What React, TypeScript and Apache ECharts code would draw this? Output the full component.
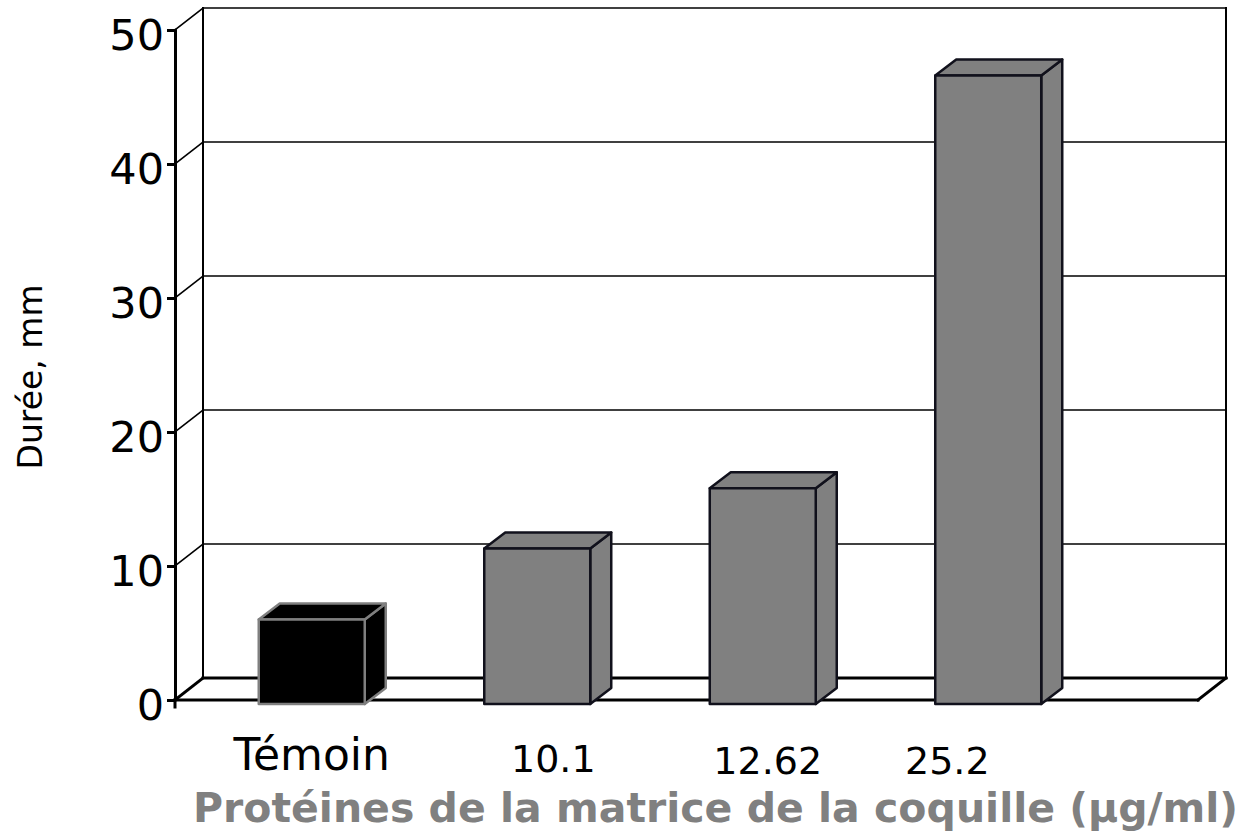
import React, { useEffect, useRef } from "react";
import * as echarts from "echarts";

// ---- data ----
const categories = ["Témoin", "10.1", "12.62", "25.2"];
const durations = [6.0, 11.3, 15.8, 46.6];
const yTicks = [0, 10, 20, 30, 40, 50];

// ---- styles ----
const FONT = "'DejaVu Sans', sans-serif";
const barFills = ["#000000", "#808080", "#808080", "#808080"];
const barStrokes = ["#7f7f7f", "#11111c", "#11111c", "#11111c"];
// label padding per category label (top, right, bottom, left)
const labelPads = [
  [0, 0, 0, 0],
  [8, 0, 0, 32],
  [10, 0, 0, 10],
  [10, 82, 0, 0],
];
const labelSizes = [44, 38, 38, 38];
const WALL_DX = 28;
const WALL_DY = -22;
const BAR_DX = 21;
const BAR_DY = -16;
const AXIS_OFFSET = 24;
const FLOOR_EXTRA_RIGHT = 97;

export default function App() {
  const ref = useRef<HTMLDivElement>(null);
  useEffect(() => {
    const chart = echarts.init(ref.current!, undefined, { renderer: "svg" });

    const frameRender = (params: any, api: any) => {
      const cs = params.coordSys;
      const xL = cs.x - AXIS_OFFSET;
      const xR = cs.x + cs.width + FLOOR_EXTRA_RIGHT;
      const yOf = (v: number) => api.coord([0, v])[1];
      const y0 = yOf(0);
      const yTop = yOf(yTicks[yTicks.length - 1]);
      const children: any[] = [];
      const line = (x1: number, y1: number, x2: number, y2: number, w: number) =>
        children.push({
          type: "line",
          shape: { x1, y1, x2, y2 },
          style: { stroke: "#000", lineWidth: w, lineCap: "square" },
        });
      yTicks.forEach((v) => {
        const yf = yOf(v);
        if (v !== 0) line(xL + WALL_DX, yf + WALL_DY, xR + WALL_DX, yf + WALL_DY, 1.6);
        line(xL, yf, xL + WALL_DX, yf + WALL_DY, v === 0 ? 3 : 1.6);
      });
      line(xL + WALL_DX, yTop + WALL_DY, xL + WALL_DX, y0 + WALL_DY, 2);
      line(xR + WALL_DX, yTop + WALL_DY, xR + WALL_DX, y0 + WALL_DY, 2);
      line(xL + WALL_DX, y0 + WALL_DY, xR + WALL_DX, y0 + WALL_DY, 3);
      line(xL, y0, xR, y0, 3);
      line(xR, y0, xR + WALL_DX, y0 + WALL_DY, 3);
      line(xL, y0, xL, y0 + 7, 3);
      return { type: "group", children };
    };

    const barRender = (params: any, api: any) => {
      const idx = api.value(0);
      const v = api.value(1);
      const [cx, yt] = api.coord([idx, v]);
      const yb = api.coord([idx, 0])[1] + 4;
      const bw = api.size([1, 0])[0] * 0.47;
      const x0 = cx - bw / 2;
      const x1 = cx + bw / 2;
      const style = {
        fill: barFills[params.dataIndex],
        stroke: barStrokes[params.dataIndex],
        lineWidth: 2.5,
        lineJoin: "round",
      };
      return {
        type: "group",
        children: [
          {
            type: "polygon",
            shape: { points: [[x1, yt], [x1 + BAR_DX, yt + BAR_DY], [x1 + BAR_DX, yb + BAR_DY], [x1, yb]] },
            style,
          },
          {
            type: "polygon",
            shape: { points: [[x0, yt], [x0 + BAR_DX, yt + BAR_DY], [x1 + BAR_DX, yt + BAR_DY], [x1, yt]] },
            style,
          },
          {
            type: "polygon",
            shape: { points: [[x0, yt], [x1, yt], [x1, yb], [x0, yb]] },
            style,
          },
        ],
      };
    };

    const rich: any = {};
    categories.forEach((_, i) => {
      rich["c" + i] = {
        fontSize: labelSizes[i],
        color: "#000",
        fontFamily: FONT,
        padding: labelPads[i],
      };
    });
    rich.y = { fontSize: 43, color: "#000", fontFamily: FONT, padding: [10, 0, 0, 0] };

    const option: any = {
      animation: false,
      backgroundColor: "#ffffff",
      title: {
        text: "Protéines de la matrice de la coquille (µg/ml)",
        left: 188,
        top: 782,
        textStyle: { fontSize: 41, fontWeight: "bold", color: "#808080", fontFamily: FONT },
      },
      grid: { left: 199, top: 30, width: 902, height: 670, outerBoundsMode: "none", containLabel: false },
      xAxis: {
        type: "category",
        data: categories,
        axisLine: { show: false },
        axisTick: { show: false },
        splitLine: { show: false },
        axisLabel: {
          margin: 32,
          formatter: (val: string, i: number) => `{c${i}|${val}}`,
          rich,
        },
      },
      yAxis: {
        type: "value",
        min: 0,
        max: 50,
        interval: 10,
        offset: AXIS_OFFSET,
        name: "Durée, mm",
        nameLocation: "middle",
        nameGap: 128,
        nameRotate: 90,
        nameTextStyle: { fontSize: 33, color: "#000", fontFamily: FONT, padding: [0, 24, 0, 0] },
        axisLine: { show: true, lineStyle: { color: "#000", width: 3 } },
        axisTick: { show: true, length: 8, lineStyle: { color: "#000", width: 3 } },
        splitLine: { show: false },
        axisLabel: {
          margin: 11,
          formatter: (val: number) => `{y|${val}}`,
          rich,
        },
      },
      series: [
        { type: "custom", data: [[0, 0]], renderItem: frameRender, clip: false, silent: true, z: 1 },
        {
          type: "custom",
          data: durations.map((v, i) => [i, v]),
          renderItem: barRender,
          clip: false,
          z: 2,
        },
      ],
    };
    chart.setOption(option);
    return () => chart.dispose();
  }, []);
  return (
    <div
      ref={ref}
      style={{ position: "fixed", left: 0, top: 0, width: 1245, height: 840, background: "#fff" }}
    />
  );
}
